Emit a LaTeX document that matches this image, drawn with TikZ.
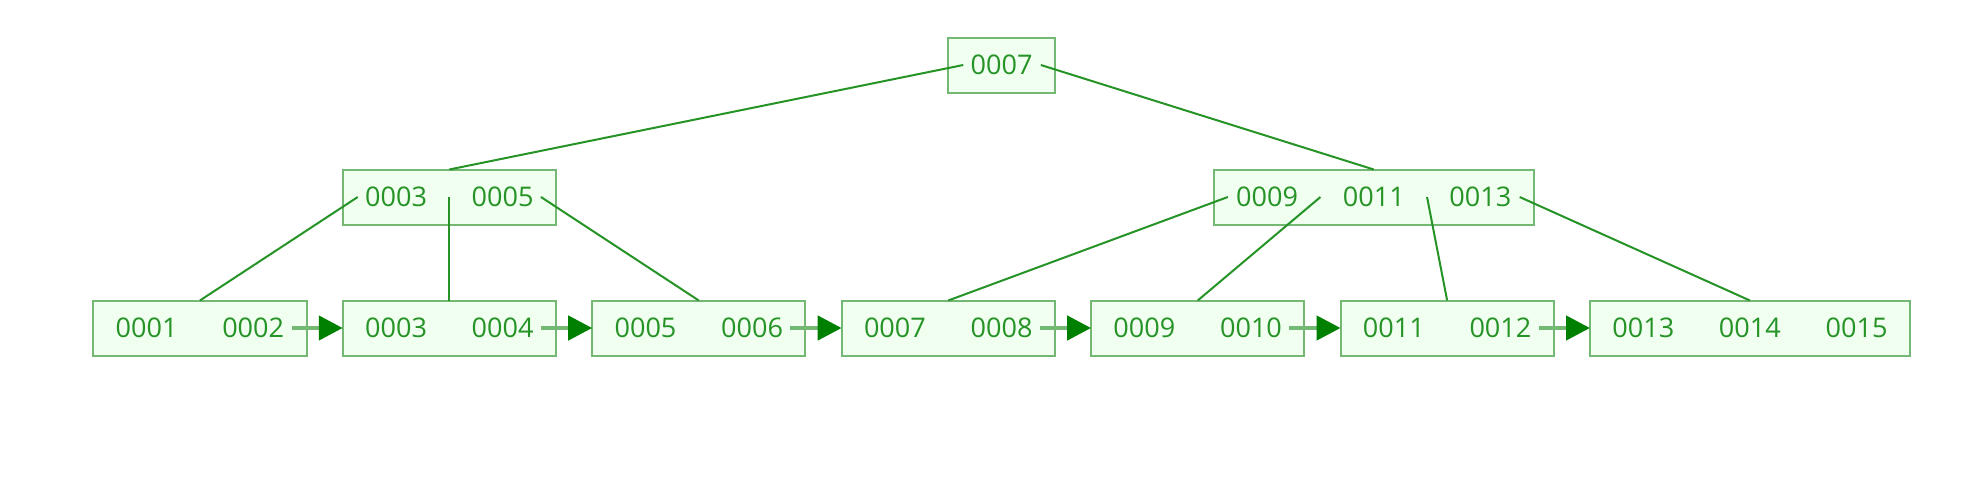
\documentclass[tikz,border=0pt]{standalone}
\usepackage{fontspec}
\setmainfont{Open Sans}
\usepackage{tikz}
\usetikzlibrary{arrows.meta, positioning, calc}
\usepackage{xcolor}
\definecolor{keygreen}{HTML}{008000}
\definecolor{pagefill}{HTML}{F0FFF0}
\newcommand{\keyslot}[1]{\makebox[1.066cm]{#1}}

\begin{document}
\begin{tikzpicture}[
    node distance=0.3625cm,
    page/.style={draw=keygreen!55, fill=pagefill, line width=0.02cm, inner sep=0pt, outer sep=0pt, minimum height=0.55cm, text=keygreen!85, font=\fontsize{7.7pt}{9pt}\selectfont},
    link/.style={draw=keygreen!85, line width=0.02cm},
    nxt/.style={draw=keygreen!55, line width=0.045cm, -{Triangle[length=0.24cm, width=0.24cm, color=keygreen]}}
]
\useasboundingbox (0,0) rectangle (19.8,4.87);

% leaf pages
\node[page] (l1) at (1.999,1.59) {\keyslot{0001}\keyslot{0002}};
\node[page, right=of l1] (l2) {\keyslot{0003}\keyslot{0004}};
\node[page, right=of l2] (l3) {\keyslot{0005}\keyslot{0006}};
\node[page, right=of l3] (l4) {\keyslot{0007}\keyslot{0008}};
\node[page, right=of l4] (l5) {\keyslot{0009}\keyslot{0010}};
\node[page, right=of l5] (l6) {\keyslot{0011}\keyslot{0012}};
\node[page, right=of l6] (l7) {\keyslot{0013}\keyslot{0014}\keyslot{0015}};

% index pages
\node[page, above=0.76cm of l2] (i1) {\keyslot{0003}\keyslot{0005}};
\node[page, above=0.76cm of l6, xshift=-0.734cm] (i2) {\keyslot{0009}\keyslot{0011}\keyslot{0013}};
\node[page, above=2.08cm of l4.north east, anchor=south east] (root) {\keyslot{0007}};

\draw[link] ($(root.west)+(0.15,0)$) -- (i1.north);
\draw[link] ($(root.east)+(-0.14,0)$) -- (i2.north);

\draw[link] ($(i1.west)+(0.15,0)$) -- (l1.north);
\draw[link] (i1.center) -- (l2.north);
\draw[link] ($(i1.east)+(-0.15,0)$) -- (l3.north);

\draw[link] ($(i2.west)+(0.14,0)$) -- (l4.north);
\draw[link] ($(i2.west)!1/3!(i2.east)$) -- (l5.north);
\draw[link] ($(i2.west)!2/3!(i2.east)$) -- (l6.north);
\draw[link] ($(i2.east)+(-0.14,0)$) -- (l7.north);

% sibling pointers
\foreach \a/\b in {l1/l2, l2/l3, l3/l4, l4/l5, l5/l6, l6/l7}
    \draw[nxt] ($(\a.east)+(-0.15,0)$) -- (\b.west);

\end{tikzpicture}
\end{document}
